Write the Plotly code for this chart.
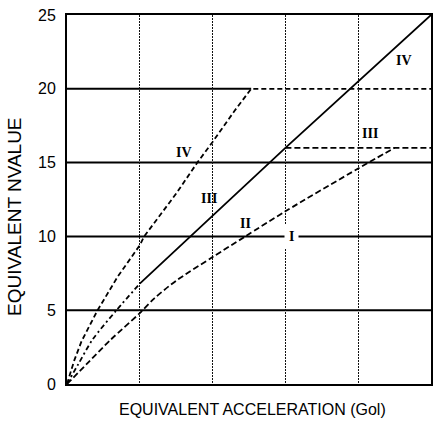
import plotly.graph_objects as go

# Curve data (x: equivalent acceleration, grid units; y: equivalent N value)
x_iv = [0, 0.1, 0.2, 0.42, 0.7, 1.0, 1.06, 1.5, 1.79, 2.0, 2.3, 2.53, 5.0]
y_iv = [0, 1.6, 2.9, 5.0, 7.3, 9.4, 10.0, 12.9, 15.0, 16.4, 18.5, 20.0, 20.0]

x_mid = [0, 0.15, 0.35, 0.68, 1.0]
y_mid = [0, 1.3, 3.0, 5.0, 6.8]

x_solid = [1.0, 3.0, 5.0]
y_solid = [6.8, 16.0, 25.0]

x_low = [0, 0.3, 0.6, 1.0, 1.2, 1.5, 2.0, 2.45, 3.0, 4.0, 4.5]
y_low = [0, 1.5, 3.0, 4.8, 5.8, 7.0, 8.6, 10.0, 11.7, 14.6, 16.0]

x_iii = [3.0, 5.0]
y_iii = [16.0, 16.0]

label_text = ["IV", "IV", "III", "III", "II", "I"]
label_x = [1.61, 4.63, 1.95, 4.16, 2.45, 3.09]
label_y = [15.7, 21.95, 12.6, 17.0, 10.9, 10.0]
label_bg = [None, None, None, None, None, "white"]

y_ticks = [0, 5, 10, 15, 20, 25]
h_grid = [5, 10, 15, 20]

fig = go.Figure()

# Horizontal grid lines (the 20 line stops where curve IV turns flat and dashed)
x_max = 5.0
for g in h_grid:
    x_end = x_max
    if g == y_iv[-1]:
        x_end = x_iv[-2]
    fig.add_shape(type="line", xref="x", yref="y", x0=0, x1=x_end, y0=g, y1=g,
                  line=dict(color="black", width=2), layer="below")

lw = 1.8
fig.add_trace(go.Scatter(x=x_iv, y=y_iv, mode="lines",
                         line=dict(color="black", width=lw, dash="5px,3px")))
fig.add_trace(go.Scatter(x=x_mid, y=y_mid, mode="lines",
                         line=dict(color="black", width=lw, dash="5px,3px,2px,3px",
                                   shape="spline", smoothing=0.8)))
fig.add_trace(go.Scatter(x=x_solid, y=y_solid, mode="lines",
                         line=dict(color="black", width=lw)))
fig.add_trace(go.Scatter(x=x_low, y=y_low, mode="lines",
                         line=dict(color="black", width=lw, dash="6px,3px",
                                   shape="spline", smoothing=0.8)))
fig.add_trace(go.Scatter(x=x_iii, y=y_iii, mode="lines",
                         line=dict(color="black", width=lw, dash="6px,3px")))

for t, x, y, bg in zip(label_text, label_x, label_y, label_bg):
    fig.add_annotation(x=x, y=y, text="<b>" + t + "</b>", showarrow=False,
                       font=dict(family="Liberation Serif", size=14, color="black"),
                       bgcolor=bg if bg else "rgba(0,0,0,0)", borderpad=4)

fig.add_annotation(xref="paper", yref="paper", x=-0.146, y=0.455,
                   text="EQUIVALENT NVALUE", textangle=-90, showarrow=False,
                   xanchor="center", yanchor="middle",
                   font=dict(family="Liberation Sans", size=19, color="black"))
fig.add_annotation(xref="paper", yref="paper", x=0.51, y=-0.07,
                   text="EQUIVALENT ACCELERATION (Gol)", showarrow=False,
                   xanchor="center", yanchor="middle",
                   font=dict(family="Liberation Sans", size=16, color="black"))

fig.update_layout(
    width=435, height=421,
    margin=dict(l=67, r=2, t=15, b=37),
    paper_bgcolor="white", plot_bgcolor="white",
    showlegend=False,
    font=dict(family="Liberation Sans", size=16, color="black"),
)
fig.update_xaxes(range=[0, 5], dtick=1, showticklabels=False, ticks="",
                 showgrid=True, gridcolor="#111", gridwidth=1, griddash="2px,1px",
                 showline=True, linecolor="black", linewidth=2, mirror=True,
                 zeroline=False)
fig.update_yaxes(range=[0, 25], tickvals=y_ticks, ticktext=[str(v) for v in y_ticks],
                 ticks="", ticklabelstandoff=6, showgrid=False,
                 showline=True, linecolor="black", linewidth=2, mirror=True,
                 zeroline=False)

fig.write_html("out.html")
